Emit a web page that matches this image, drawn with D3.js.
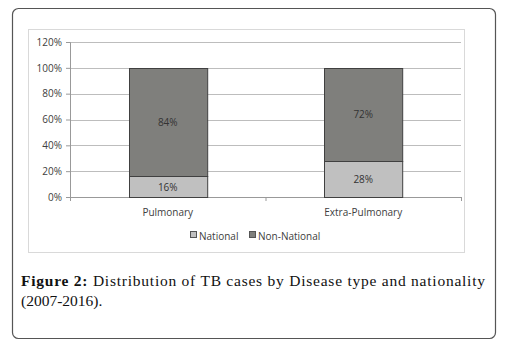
<!DOCTYPE html>
<html>
<head>
<meta charset="utf-8">
<script src="https://cdn.jsdelivr.net/npm/d3@7"></script>
<style>
  body { margin: 0; background: #fff; }
  svg { display: block; }
</style>
</head>
<body>
<svg width="507" height="346"></svg>
<script>
const categories = ['Pulmonary', 'Extra-Pulmonary']
const seriesNames = ['National', 'Non-National']
const national = [16, 28]
const nonNational = [84, 72]
const yTicks = [0, 20, 40, 60, 80, 100, 120]
const captionLines = ['Distribution of TB cases by Disease type and nationality', '(2007-2016).']

const colors = { 'National': '#c0c0c0', 'Non-National': '#7f7f7c' }

const svg = d3.select('svg')

// outer frame
svg.append('rect')
  .attr('x', 12.5).attr('y', 8.5)
  .attr('width', 483).attr('height', 330)
  .attr('rx', 6)
  .attr('fill', '#fff')
  .attr('stroke', '#555')
  .attr('stroke-width', 1.2)

// chart area frame
svg.append('rect')
  .attr('x', 28.5).attr('y', 29.5)
  .attr('width', 436).attr('height', 223)
  .attr('fill', '#fff')
  .attr('stroke', '#d9d9d9')

const margin = { top: 42, left: 70, right: 46, bottom: 149 }
const innerWidth = 507 - margin.left - margin.right
const innerHeight = 346 - margin.top - margin.bottom

const g = svg.append('g')
  .attr('transform', `translate(${margin.left},${margin.top})`)

const xScale = d3.scaleBand()
  .domain(categories)
  .range([0, innerWidth])
  .paddingInner(0.6)
  .paddingOuter(0.3)

const yScale = d3.scaleLinear()
  .domain([0, 120])
  .range([innerHeight, 0])

// gridlines
g.selectAll('.grid').data(yTicks.filter(d => d > 0))
  .enter().append('line')
  .attr('x1', 0).attr('x2', innerWidth)
  .attr('y1', d => Math.round(yScale(d)) + 0.5)
  .attr('y2', d => Math.round(yScale(d)) + 0.5)
  .attr('stroke', '#bdbdbd')

const yAxis = d3.axisLeft(yScale)
  .tickValues(yTicks)
  .tickFormat(d => d + '%')
  .tickSize(4)
  .tickPadding(4)

const yAxisG = g.append('g').call(yAxis)
yAxisG.select('.domain').attr('stroke', '#999')
yAxisG.selectAll('line').attr('stroke', '#999')
yAxisG.selectAll('text')
  .attr('font-family', 'Open Sans, sans-serif')
  .attr('font-size', 10)
  .attr('fill', '#404040')

// x axis line with a tick between categories
const step = xScale.step()
const bandLeft = xScale(categories[0]) - xScale.paddingOuter() * step
g.append('line')
  .attr('x1', 0).attr('x2', innerWidth)
  .attr('y1', innerHeight + 0.5).attr('y2', innerHeight + 0.5)
  .attr('stroke', '#999')
const divs = [0, innerWidth / 2, innerWidth]
g.selectAll('.xtick').data(divs)
  .enter().append('line')
  .attr('x1', d => d + 0.5).attr('x2', d => d + 0.5)
  .attr('y1', innerHeight).attr('y2', innerHeight + 4)
  .attr('stroke', '#999')

g.selectAll('.xlabel').data(categories)
  .enter().append('text')
  .attr('x', d => xScale(d) + xScale.bandwidth() / 2)
  .attr('y', innerHeight + 19)
  .attr('text-anchor', 'middle')
  .attr('font-family', 'Open Sans, sans-serif')
  .attr('font-size', 10)
  .attr('fill', '#404040')
  .text(d => d)

// stacked bars
const rows = categories.map((c, i) => ({ cat: c, 'National': national[i], 'Non-National': nonNational[i] }))
const stacked = d3.stack().keys(seriesNames)(rows)

const layer = g.selectAll('.layer').data(stacked)
  .enter().append('g')
  .attr('fill', d => colors[d.key])

layer.selectAll('rect').data(d => d)
  .enter().append('rect')
  .attr('x', d => Math.round(xScale(d.data.cat)) + 0.5)
  .attr('y', d => Math.round(yScale(d[1])) + 0.5)
  .attr('width', xScale.bandwidth())
  .attr('height', d => Math.round(yScale(d[0])) - Math.round(yScale(d[1])))
  .attr('stroke', '#404040')
  .attr('stroke-width', 1)

layer.selectAll('text').data(d => d)
  .enter().append('text')
  .attr('x', d => xScale(d.data.cat) + xScale.bandwidth() / 2)
  .attr('y', d => yScale((d[0] + d[1]) / 2) + 4)
  .attr('text-anchor', 'middle')
  .attr('font-family', 'Open Sans, sans-serif')
  .attr('font-size', 10)
  .attr('fill', '#333')
  .text(d => (d[1] - d[0]) + '%')

// legend
const legend = svg.append('g').attr('transform', 'translate(190,236)')
const legendX = [0, 59]
seriesNames.forEach((s, i) => {
  const lg = legend.append('g').attr('transform', `translate(${legendX[i]},0)`)
  lg.append('rect')
    .attr('x', 0.5).attr('y', -4.5)
    .attr('width', 6).attr('height', 6)
    .attr('fill', colors[s])
    .attr('stroke', '#555')
  lg.append('text')
    .attr('x', 9).attr('y', 3.5)
    .attr('font-family', 'Open Sans, sans-serif')
    .attr('font-size', 10)
    .attr('fill', '#404040')
    .text(s)
})

// caption
const cap = svg.append('text')
  .attr('x', 21).attr('y', 286)
  .attr('font-family', 'Liberation Serif, serif')
  .attr('font-size', 15.5)
  .attr('fill', '#111')
  .attr('textLength', 464)
  .attr('lengthAdjust', 'spacing')
cap.append('tspan').attr('font-weight', 'bold').text('Figure 2: ')
cap.append('tspan').text(captionLines[0])

svg.append('text')
  .attr('x', 21).attr('y', 306)
  .attr('font-family', 'Liberation Serif, serif')
  .attr('font-size', 15.5)
  .attr('fill', '#111')
  .text(captionLines[1])
</script>
</body>
</html>
